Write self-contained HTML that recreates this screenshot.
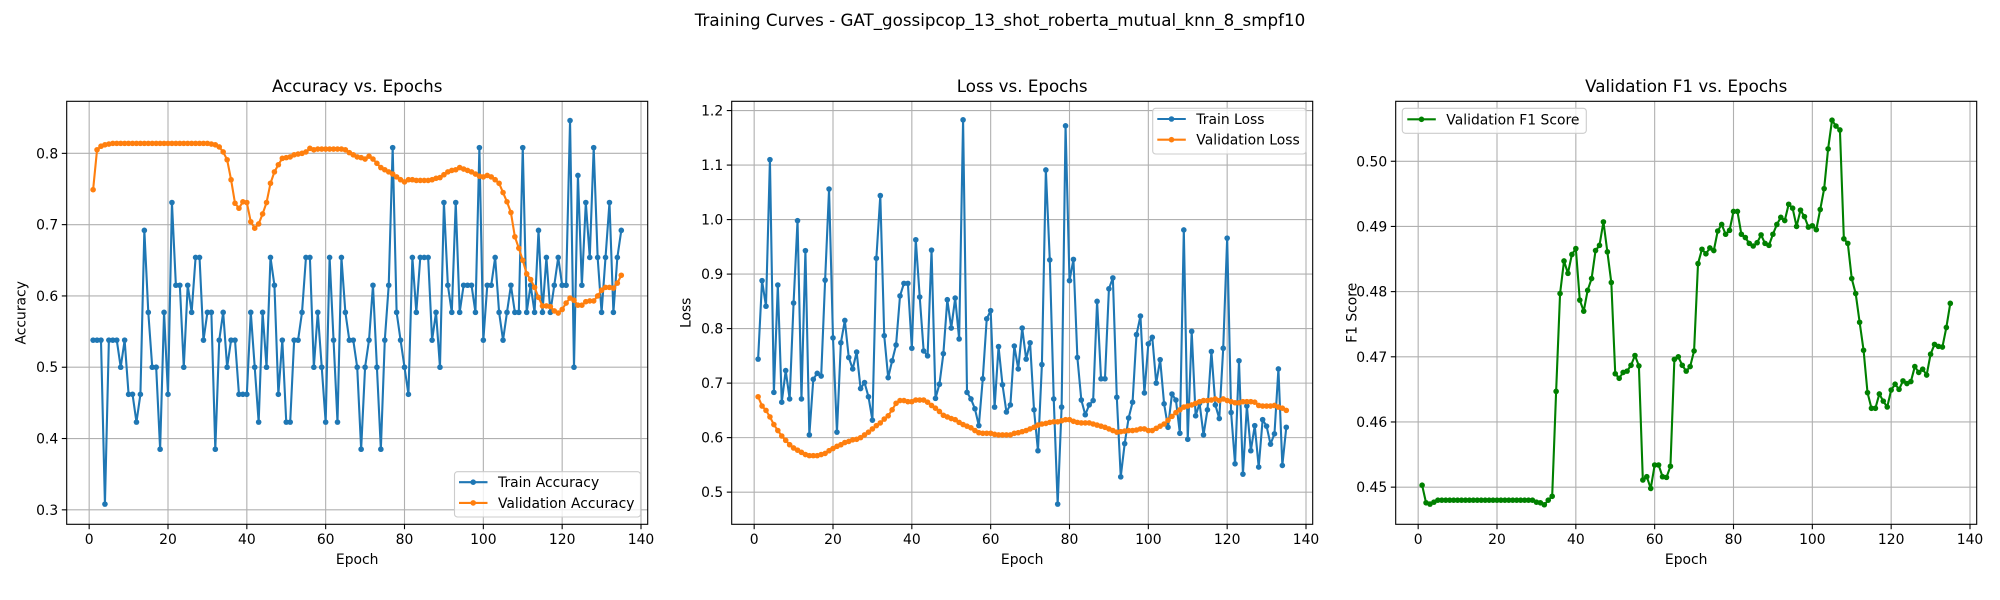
<!DOCTYPE html>
<html><head><meta charset="utf-8"><style>
html,body{margin:0;padding:0;background:#fff;}
svg{display:block;font-family:"DejaVu Sans","Liberation Sans",sans-serif;}
</style></head><body>
<svg id="fig" width="2000" height="600" viewBox="0 0 2000 600" xmlns="http://www.w3.org/2000/svg">
<rect width="2000" height="600" fill="#fff"/>
<text x="1000" y="26" text-anchor="middle" font-size="16.7" fill="#000">Training Curves - GAT_gossipcop_13_shot_roberta_mutual_knn_8_smpf10</text>
</svg>
<script>
const epochs = Array.from({length:135},(_,i)=>i+1);
const trainAcc = [
.538,.538,.538,.308,.538,.538,.538,.5,.538,.462,
.462,.423,.462,.692,.577,.5,.5,.385,.577,.462,
.731,.615,.615,.5,.615,.577,.654,.654,.538,.577,
.577,.385,.538,.577,.5,.538,.538,.462,.462,.462,
.577,.5,.423,.577,.5,.654,.615,.462,.538,.423,
.423,.538,.538,.577,.654,.654,.5,.577,.5,.423,
.654,.538,.423,.654,.577,.538,.538,.5,.385,.5,
.538,.615,.5,.385,.538,.615,.808,.577,.538,.5,
.462,.654,.577,.654,.654,.654,.538,.577,.5,.731,
.615,.577,.731,.577,.615,.615,.615,.577,.808,.538,
.615,.615,.654,.577,.538,.577,.615,.577,.577,.808,
.577,.615,.577,.692,.577,.654,.577,.615,.654,.615,
.615,.846,.5,.769,.615,.731,.654,.808,.654,.577,
.654,.731,.577,.654,.692];
const valAcc = [
.749,.805,.810,.812,.813,.814,.814,.814,.814,.814,
.814,.814,.814,.814,.814,.814,.814,.814,.814,.814,
.814,.814,.814,.814,.814,.814,.814,.814,.814,.814,
.813,.812,.809,.802,.791,.763,.730,.723,.732,.731,
.704,.695,.701,.715,.731,.758,.774,.784,.793,.794,
.795,.798,.799,.800,.802,.807,.805,.806,.806,.806,
.806,.806,.806,.806,.805,.801,.798,.795,.794,.792,
.796,.792,.786,.780,.777,.774,.771,.767,.763,.760,
.763,.763,.762,.762,.762,.762,.763,.765,.766,.770,
.774,.776,.777,.780,.778,.776,.774,.771,.768,.767,
.769,.767,.763,.758,.745,.732,.717,.683,.667,.650,
.631,.623,.612,.598,.586,.586,.585,.579,.576,.581,
.590,.597,.594,.587,.587,.592,.593,.593,.600,.608,
.612,.612,.611,.618,.629];
const trainLoss = [
.744,.888,.841,1.110,.683,.880,.665,.723,.671,.847,
.998,.671,.943,.605,.707,.718,.713,.889,1.056,.783,
.610,.774,.815,.747,.726,.757,.690,.701,.675,.632,
.929,1.044,.787,.710,.741,.770,.860,.883,.883,.764,
.963,.858,.759,.750,.944,.672,.698,.754,.853,.801,
.856,.781,1.183,.683,.671,.653,.622,.708,.818,.833,
.656,.767,.697,.647,.660,.768,.726,.801,.744,.774,
.651,.576,.734,1.091,.926,.671,.478,.656,1.172,.888,
.927,.747,.669,.642,.660,.668,.850,.708,.708,.873,
.893,.674,.528,.589,.636,.665,.789,.823,.682,.772,
.784,.700,.743,.662,.619,.680,.669,.608,.981,.597,
.795,.640,.663,.605,.651,.758,.660,.635,.764,.966,
.646,.552,.741,.533,.658,.576,.622,.546,.633,.621,
.588,.607,.726,.549,.619];
const valLoss = [
.675,.658,.650,.638,.624,.613,.603,.595,.587,.581,
.577,.573,.569,.567,.567,.567,.569,.571,.576,.580,
.584,.587,.591,.593,.596,.597,.600,.605,.610,.616,
.622,.627,.634,.640,.651,.663,.668,.668,.666,.666,
.669,.669,.669,.665,.659,.654,.648,.641,.638,.635,
.633,.628,.624,.621,.618,.613,.609,.608,.608,.608,
.606,.605,.605,.605,.605,.608,.609,.611,.613,.616,
.619,.623,.625,.626,.628,.629,.629,.631,.633,.633,
.630,.628,.627,.627,.627,.625,.623,.621,.619,.616,
.613,.610,.611,.612,.613,.613,.614,.616,.616,.613,
.613,.617,.621,.625,.632,.639,.646,.651,.656,.658,
.660,.663,.666,.668,.668,.669,.671,.668,.671,.668,
.666,.664,.664,.666,.666,.666,.665,.659,.658,.658,
.658,.659,.656,.654,.650];
const valF1 = [
.4503,.4476,.4474,.4477,.4480,.4480,.4480,.4480,.4480,.4480,
.4480,.4480,.4480,.4480,.4480,.4480,.4480,.4480,.4480,.4480,
.4480,.4480,.4480,.4480,.4480,.4480,.4480,.4480,.4480,.4477,
.4476,.4473,.4480,.4486,.4647,.4797,.4847,.4828,.4857,.4866,
.4787,.4770,.4802,.4820,.4863,.4871,.4907,.4861,.4814,.4674,
.4667,.4676,.4678,.4687,.4702,.4686,.4511,.4516,.4498,.4534,
.4534,.4516,.4515,.4532,.4696,.4700,.4687,.4678,.4685,.4709,
.4843,.4865,.4858,.4867,.4863,.4893,.4903,.4888,.4894,.4923,
.4923,.4888,.4883,.4874,.4870,.4875,.4887,.4874,.4871,.4888,
.4903,.4914,.4909,.4934,.4928,.4900,.4925,.4915,.4899,.4901,
.4895,.4926,.4958,.5019,.5063,.5054,.5048,.4881,.4874,.4820,
.4797,.4753,.4710,.4645,.4621,.4621,.4643,.4632,.4623,.4649,
.4658,.4650,.4663,.4659,.4662,.4685,.4676,.4681,.4672,.4704,
.4719,.4716,.4715,.4745,.4782];
const xTicks = [0,20,40,60,80,100,120,140];
const accTicks = [0.3,0.4,0.5,0.6,0.7,0.8];
const lossTicks = [0.5,0.6,0.7,0.8,0.9,1.0,1.1,1.2];
const f1Ticks = [0.45,0.46,0.47,0.48,0.49,0.50];

const NS="http://www.w3.org/2000/svg";
const fig=document.getElementById('fig');
function mk(tag,attrs,parent){const e=document.createElementNS(NS,tag);for(const k in attrs)e.setAttribute(k,attrs[k]);(parent||fig).appendChild(e);return e;}
const AX_TOP=101.3, AX_H=423, AX_W=581, XMIN=-5.7, XMAX=141.7;

function drawPanel(cfg){
  const L=cfg.left;
  const g=mk('g',{});
  
  
  const sx=v=>L+(v-XMIN)/(XMAX-XMIN)*AX_W;
  const sy=v=>AX_TOP+AX_H-(v-cfg.ylim[0])/(cfg.ylim[1]-cfg.ylim[0])*AX_H;
  // grid
  xTicks.forEach(t=>{const x=sx(t);
    const gl=mk('line',{x1:x,x2:x,y1:AX_TOP,y2:AX_TOP+AX_H,stroke:'#b0b0b0','stroke-width':1.1},g);
    
    
    mk('line',{x1:x,x2:x,y1:AX_TOP+AX_H,y2:AX_TOP+AX_H+4.9,stroke:'#000','stroke-width':1.1},g);
    const tl=mk('text',{x:x,y:AX_TOP+AX_H+19.5,'text-anchor':'middle','font-size':13.9,fill:'#000'},g);
    tl.textContent=String(t);
    
    
  });
  cfg.yticks.forEach(t=>{const y=sy(t);
    const gl=mk('line',{x1:L,x2:L+AX_W,y1:y,y2:y,stroke:'#b0b0b0','stroke-width':1.1},g);
    
    
    mk('line',{x1:L-4.9,x2:L,y1:y,y2:y,stroke:'#000','stroke-width':1.1},g);
    const tl=mk('text',{x:L-8.5,y:y+5,'text-anchor':'end','font-size':13.9,fill:'#000'},g);
    tl.textContent=t.toFixed(cfg.dec);
    
    
  });
  // series
  cfg.series.forEach(s=>{
    const sg=mk('g',{},g);
    
    
    const pts=s.data.map((v,i)=>sx(epochs[i]).toFixed(2)+','+sy(v).toFixed(2)).join(' ');
    mk('polyline',{points:pts,fill:'none',stroke:s.color,'stroke-width':2.1,'stroke-linejoin':'round'},sg);
    s.data.forEach((v,i)=>{
      const c=mk('circle',{cx:sx(epochs[i]),cy:sy(v),r:2.8,fill:s.color},sg);
      
      
    });
  });
  // frame
  const fr=mk('rect',{x:L,y:AX_TOP,width:AX_W,height:AX_H,fill:'none',stroke:'#000','stroke-width':1.1},g);
  
  
  const ti=mk('text',{x:L+AX_W/2,y:92,'text-anchor':'middle','font-size':16.7,fill:'#000'},g);
  ti.textContent=cfg.title;
  
  
  const xl=mk('text',{x:L+AX_W/2,y:564,'text-anchor':'middle','font-size':13.9,fill:'#000'},g);
  xl.textContent='Epoch';
  
  
  const yx=L-cfg.ylabOff, yy=AX_TOP+AX_H/2;
  const yl=mk('text',{x:yx,y:yy,'text-anchor':'middle','font-size':13.9,fill:'#000',transform:`rotate(-90 ${yx} ${yy})`,dy:5},g);
  yl.textContent=cfg.ylabel;
  
  
  // legend
  const lg=cfg.legend;
  const lgG=mk('g',{},g);
  
  
  mk('rect',{x:lg.x,y:lg.y,width:lg.w,height:lg.h,rx:3,fill:'#fff','fill-opacity':0.8,stroke:'#cccccc','stroke-width':1.1},lgG);
  cfg.series.forEach((s,i)=>{
    const y=lg.y0+i*20.7;
    const e=mk('g',{},lgG);
    
    
    mk('line',{x1:lg.lx,x2:lg.lx+28.5,y1:y,y2:y,stroke:s.color,'stroke-width':2.1},e);
    mk('circle',{cx:lg.lx+14.2,cy:y,r:2.8,fill:s.color},e);
    const t=mk('text',{x:lg.lx+39,y:y+5,'font-size':13.9,fill:'#000'},e);
    t.textContent=s.label;
  });
}

drawPanel({name:'accuracy-panel',left:66.7,ylim:[0.2797,0.873],yticks:accTicks,dec:1,title:'Accuracy vs. Epochs',ylabel:'Accuracy',ylabOff:46,
  series:[{name:'train-accuracy-series',label:'Train Accuracy',color:'#1f77b4',data:trainAcc},{name:'validation-accuracy-series',label:'Validation Accuracy',color:'#ff7f0e',data:valAcc}],
  legend:{x:454.5,y:471.7,w:186,h:45.3,lx:459,y0:482.2}});
drawPanel({name:'loss-panel',left:731.7,ylim:[0.441,1.217],yticks:lossTicks,dec:1,title:'Loss vs. Epochs',ylabel:'Loss',ylabOff:46,
  series:[{name:'train-loss-series',label:'Train Loss',color:'#1f77b4',data:trainLoss},{name:'validation-loss-series',label:'Validation Loss',color:'#ff7f0e',data:valLoss}],
  legend:{x:1152.7,y:108.3,w:153.3,h:45.7,lx:1157.3,y0:119}});
drawPanel({name:'f1-panel',left:1395.7,ylim:[0.4443,0.5092],yticks:f1Ticks,dec:2,title:'Validation F1 vs. Epochs',ylabel:'F1 Score',ylabOff:44,
  series:[{name:'validation-f1-series',label:'Validation F1 Score',color:'#008000',data:valF1}],
  legend:{x:1402.3,y:108.3,w:184,h:25,lx:1407.3,y0:119.3}});
</script>
</body></html>
